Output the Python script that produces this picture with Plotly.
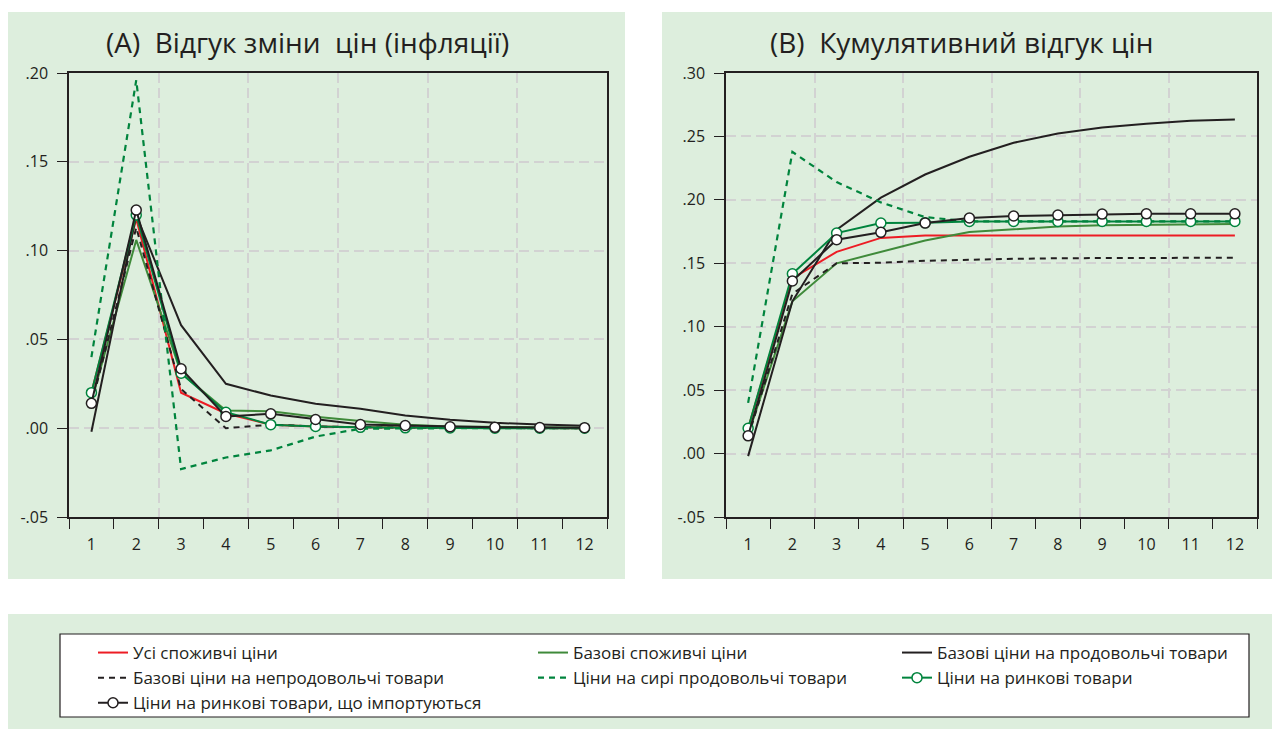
import plotly.graph_objects as go

W, H = 1280, 729

periods = list(range(1, 13))

# Panel A: response of price change (inflation)
all_cpi_a = [0.020, 0.118, 0.020, 0.0083, 0.002, 0.001, 0.0005, 0.0003, 0.0002, 0.0001, 0.0001, 0.0]
core_cpi_a = [0.015, 0.106, 0.031, 0.010, 0.0095, 0.0065, 0.004, 0.002, 0.001, 0.0007, 0.0004, 0.0002]
core_food_a = [-0.002, 0.120, 0.058, 0.025, 0.0184, 0.0138, 0.011, 0.0072, 0.0047, 0.003, 0.0021, 0.0014]
core_nonfood_a = [0.013, 0.113, 0.022, 0.000, 0.002, 0.001, 0.0005, 0.0003, 0.0002, 0.0001, 0.0, 0.0]
raw_food_a = [0.040, 0.196, -0.023, -0.0165, -0.0125, -0.0047, -0.0003, 0.0, 0.0, 0.0, 0.0, 0.0]
tradables_a = [0.020, 0.120, 0.031, 0.009, 0.002, 0.001, 0.0005, 0.0002, 0.0001, 0.0, 0.0, 0.0]
imported_a = [0.014, 0.1228, 0.0335, 0.0066, 0.0081, 0.0049, 0.0021, 0.0015, 0.0008, 0.0005, 0.0004, 0.0003]

# Panel B: cumulative price response
all_cpi_b = [0.020, 0.138, 0.159, 0.170, 0.172, 0.172, 0.172, 0.172, 0.172, 0.172, 0.172, 0.172]
core_cpi_b = [0.015, 0.120, 0.150, 0.159, 0.168, 0.1746, 0.177, 0.179, 0.180, 0.1805, 0.181, 0.181]
core_food_b = [-0.002, 0.120, 0.1765, 0.2018, 0.220, 0.234, 0.245, 0.2523, 0.257, 0.260, 0.2623, 0.2634]
core_nonfood_b = [0.013, 0.126, 0.150, 0.1504, 0.152, 0.153, 0.1535, 0.154, 0.154, 0.1544, 0.1544, 0.1544]
raw_food_b = [0.040, 0.2378, 0.214, 0.198, 0.1864, 0.183, 0.183, 0.183, 0.183, 0.183, 0.183, 0.183]
tradables_b = [0.020, 0.1417, 0.1738, 0.1817, 0.182, 0.183, 0.183, 0.183, 0.183, 0.183, 0.183, 0.183]
imported_b = [0.014, 0.136, 0.1686, 0.1744, 0.1817, 0.1857, 0.1873, 0.188, 0.1888, 0.189, 0.189, 0.189]

series_names = [
    "Усі споживчі ціни",
    "Базові споживчі ціни",
    "Базові ціни на продовольчі товари",
    "Базові ціни на непродовольчі товари",
    "Ціни на сирі продовольчі товари",
    "Ціни на ринкові товари",
    "Ціни на ринкові товари, що імпортуються",
]

ya_ticks = [-0.05, 0.0, 0.05, 0.10, 0.15, 0.20]
ya_labels = ["-.05", ".00", ".05", ".10", ".15", ".20"]
yb_ticks = [-0.05, 0.0, 0.05, 0.10, 0.15, 0.20, 0.25, 0.30]
yb_labels = ["-.05", ".00", ".05", ".10", ".15", ".20", ".25", ".30"]

title_a = "(А)  Відгук зміни  цін (інфляції)"
title_b = "(В)  Кумулятивний відгук цін"

FONT = "Open Sans"
INK = "#231f20"
RED = "#ed1c24"
MGREEN = "#3f8a3a"
DGREEN = "#00843d"
BG = "#ddeedd"
GRID = "#d2d2d2"

styles = [
    dict(line=dict(color=RED, width=2), mode="lines", legend="legend"),
    dict(line=dict(color=MGREEN, width=2), mode="lines", legend="legend2"),
    dict(line=dict(color=INK, width=2), mode="lines", legend="legend3"),
    dict(line=dict(color=INK, width=2, dash="6px,5px"), mode="lines", legend="legend"),
    dict(line=dict(color=DGREEN, width=2.2, dash="6px,5px"), mode="lines", legend="legend2"),
    dict(line=dict(color=DGREEN, width=2), mode="lines+markers",
         marker=dict(symbol="circle", size=10, color="white", line=dict(color=DGREEN, width=1.5)),
         legend="legend3"),
    dict(line=dict(color=INK, width=2), mode="lines+markers",
         marker=dict(symbol="circle", size=10, color="white", line=dict(color=INK, width=1.5)),
         legend="legend"),
]

data_a = [all_cpi_a, core_cpi_a, core_food_a, core_nonfood_a, raw_food_a, tradables_a, imported_a]
data_b = [all_cpi_b, core_cpi_b, core_food_b, core_nonfood_b, raw_food_b, tradables_b, imported_b]

fig = go.Figure()

# invisible carriers so that the label axes (period numbers) are drawn
for xa, ya in (("x3", "y"), ("x4", "y2")):
    fig.add_trace(go.Scatter(x=periods, y=[None] * len(periods), xaxis=xa, yaxis=ya,
                             mode="lines", showlegend=False, hoverinfo="skip"))

for i, (name, st) in enumerate(zip(series_names, styles)):
    fig.add_trace(go.Scatter(x=periods, y=data_a[i], name=name, xaxis="x", yaxis="y",
                             legendgroup=f"g{i}", showlegend=True, **st))
for i, (name, st) in enumerate(zip(series_names, styles)):
    st2 = dict(st)
    st2.pop("legend")
    fig.add_trace(go.Scatter(x=periods, y=data_b[i], name=name, xaxis="x2", yaxis="y2",
                             legendgroup=f"g{i}", showlegend=False, **st2))

# the page body adds an 8px offset; positions below are in screen pixels
OFF = 8


def px_x(p):
    return (p - OFF) / W


def px_y(p):
    return 1 - (p - OFF) / H


dom_a = [px_x(69), px_x(607)]
dom_b = [px_x(726), px_x(1257)]
dom_y = [px_y(517), px_y(73)]

xr = [0.5, 12.5]


def grid_xaxis(domain, anchor):
    return dict(domain=domain, anchor=anchor, range=xr, tick0=0.5, dtick=2,
                ticks="outside", ticklen=10, tickwidth=1.2, tickcolor=INK,
                showticklabels=False, showgrid=True, gridcolor=GRID, gridwidth=1.5,
                griddash="10px,5px", showline=True, linecolor=INK, linewidth=1.5,
                mirror=True, zeroline=False, fixedrange=True, automargin=False,
                minor=dict(tick0=0.5, dtick=1, ticks="outside", ticklen=10,
                           tickwidth=1.2, tickcolor=INK, showgrid=False))


def label_xaxis(overlay, anchor):
    return dict(overlaying=overlay, anchor=anchor, range=xr, tickmode="array",
                tickvals=periods, ticktext=[str(p) for p in periods], ticks="",
                showgrid=False, showline=False, zeroline=False, side="bottom",
                automargin=False, ticklabelstandoff=16,
                tickfont=dict(family=FONT, size=16, color=INK))


def yaxis(domain, anchor, rng, tv, tt):
    return dict(domain=domain, anchor=anchor, range=rng, tickmode="array",
                tickvals=tv, ticktext=tt, ticks="outside", ticklen=10, tickwidth=1.2,
                tickcolor=INK, showgrid=True, gridcolor=GRID, gridwidth=1.5,
                griddash="10px,5px", showline=True, linecolor=INK, linewidth=1.5,
                mirror=True, zeroline=False, ticklabelstandoff=6, automargin=False,
                tickfont=dict(family=FONT, size=16, color=INK))


legend_common = dict(orientation="v", xanchor="left", yanchor="top", bgcolor="rgba(0,0,0,0)",
                     borderwidth=0, font=dict(family=FONT, size=17, color=INK),
                     tracegroupgap=0, itemclick=False, itemdoubleclick=False)

fig.update_layout(
    template="none",
    width=W, height=H,
    margin=dict(l=0, r=0, t=0, b=0, pad=0, autoexpand=False),
    paper_bgcolor="white", plot_bgcolor="white",
    font=dict(family=FONT, color=INK),
    hovermode=False,
    xaxis=grid_xaxis(dom_a, "y"),
    xaxis3=label_xaxis("x", "y"),
    yaxis=yaxis(dom_y, "x", [-0.05, 0.20], ya_ticks, ya_labels),
    xaxis2=grid_xaxis(dom_b, "y2"),
    xaxis4=label_xaxis("x2", "y2"),
    yaxis2=yaxis(dom_y, "x2", [-0.05, 0.30], yb_ticks, yb_labels),
    legend=dict(x=px_x(93), y=px_y(635), **legend_common),
    legend2=dict(x=px_x(533), y=px_y(635), **legend_common),
    legend3=dict(x=px_x(897), y=px_y(635), **legend_common),
    showlegend=True,
    shapes=[
        dict(type="rect", xref="paper", yref="paper", x0=px_x(4), x1=px_x(625),
             y0=px_y(579), y1=px_y(12), fillcolor=BG, line=dict(width=0), layer="below"),
        dict(type="rect", xref="paper", yref="paper", x0=px_x(662), x1=px_x(1290),
             y0=px_y(579), y1=px_y(12), fillcolor=BG, line=dict(width=0), layer="below"),
        dict(type="rect", xref="paper", yref="paper", x0=px_x(4), x1=px_x(1290),
             y0=px_y(740), y1=px_y(614), fillcolor=BG, line=dict(width=0), layer="below"),
        dict(type="rect", xref="paper", yref="paper", x0=px_x(60), x1=px_x(1249),
             y0=px_y(717), y1=px_y(634), fillcolor="white", line=dict(color=INK, width=1.2),
             layer="below"),
    ],
    annotations=[
        dict(text=title_a, x=px_x(307), y=px_y(42), xref="paper", yref="paper",
             xanchor="center", yanchor="middle", showarrow=False,
             font=dict(family=FONT, size=28, color=INK)),
        dict(text=title_b, x=px_x(961), y=px_y(42), xref="paper", yref="paper",
             xanchor="center", yanchor="middle", showarrow=False,
             font=dict(family=FONT, size=28, color=INK)),
    ],
)

fig.write_html("out.html")
